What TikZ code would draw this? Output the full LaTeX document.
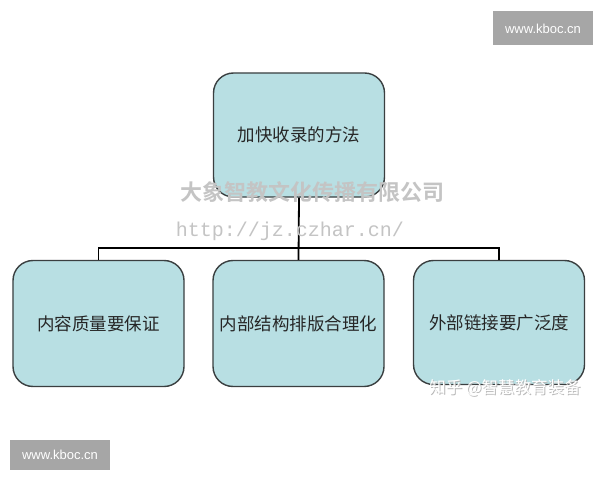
\documentclass[tikz,border=0pt]{standalone}
\usepackage{fontspec}
\newfontfamily\cjk{Noto Sans CJK SC}
\newfontfamily\cjkb{Noto Sans CJK SC Bold}
\setmonofont{Liberation Mono}
\setsansfont{Liberation Sans}
\definecolor{boxfill}{HTML}{B8DFE3}
\definecolor{boxline}{HTML}{3A3F40}
\definecolor{tagbg}{HTML}{A6A6A6}
\definecolor{wm}{HTML}{C4C4C4}
\begin{document}
\begin{tikzpicture}[x=1bp,y=-1bp,
  block/.style={draw=boxline,line width=1.4bp,fill=boxfill,rounded corners=20bp,
    minimum width=171bp,inner sep=0pt,font=\cjk\fontsize{17.5bp}{20bp}\selectfont,text=black!85},
  wire/.style={draw=black,line width=1.8bp},
  tag/.style={fill=tagbg,text=white,inner sep=0pt,minimum width=100bp,minimum height=34bp,font=\sffamily\fontsize{13bp}{15bp}\selectfont}]
\useasboundingbox (0,0) rectangle (600,480);
\fill[white] (0,0) rectangle (600,480);
% boxes
\node[block,minimum height=124bp] (top) at (299,135) {加快收录的方法};
\node[block,minimum height=126bp] (l) at (98.5,323.5) {内容质量要保证};
\node[block,minimum height=126bp] (m) at (298.5,323.5) {内部结构排版合理化};
\node[block,minimum height=124bp] (r) at (499,322.5) {外部链接要广泛度};
% connectors
\coordinate (j) at (298.5,248);
\draw[wire] (top.south) -- (m.north);
\draw[wire] (l.north) -- (l.north |- j) -- (r.north |- j) -- (r.north);
% watermarks
\node[text=wm,font=\cjkb\fontsize{22bp}{24bp}\selectfont,inner sep=0pt] (wm1) at (312,192) {大象智教文化传播有限公司};
\node[text=wm,font=\ttfamily\fontsize{20bp}{22bp}\selectfont,inner sep=0pt] (wm2) at (290,231) {http://jz.czhar.cn/};
\node[text=gray!55,font=\cjk\fontsize{16.5bp}{18bp}\selectfont,inner sep=0pt] (wm3s) at (506,388.8) {知乎 @智慧教育装备};
\node[text=white,font=\cjk\fontsize{16.5bp}{18bp}\selectfont,inner sep=0pt] (wm3) at (505,388) {知乎 @智慧教育装备};
% tags
\node[tag] (t1) at (543,28.5) {www.kboc.cn};
\node[tag,minimum height=30bp] (t2) at (60,455) {www.kboc.cn};
\end{tikzpicture}
\end{document}
